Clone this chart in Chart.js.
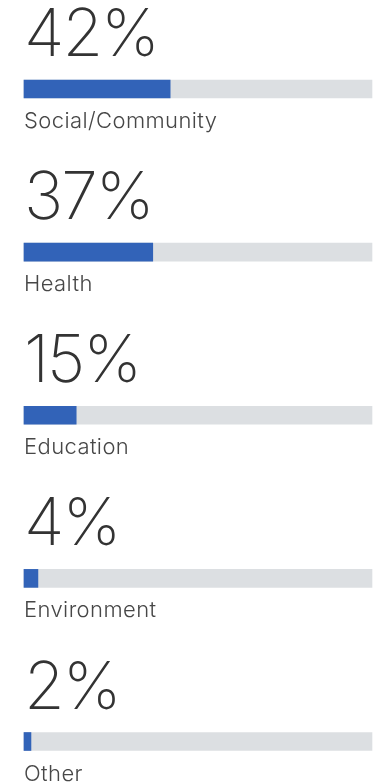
<!DOCTYPE html>
<html>
<head>
<meta charset="utf-8">
<style>
  html, body { margin: 0; padding: 0; background: #ffffff; }
  #wrap { position: relative; width: 378px; height: 783px; }
</style>
<script src="https://cdn.jsdelivr.net/npm/chart.js@4/dist/chart.umd.min.js"></script>
</head>
<body>
<div id="wrap"><canvas id="chart"></canvas></div>
<script>
// Share of giving by focus area
const categories = ['Social/Community', 'Health', 'Education', 'Environment', 'Other'];
const shares = [42, 37, 15, 4, 2];
const scaleMax = 100;
const track = categories.map(() => scaleMax);

const BLUE = '#3263b8';
const TRACK = '#dcdfe2';

// Big percentage above each bar, category name below it
const labelPlugin = {
  id: 'barLabels',
  afterDatasetsDraw(chart) {
    const ctx = chart.ctx;
    const meta = chart.getDatasetMeta(0);
    const left = chart.chartArea.left;
    ctx.save();
    ctx.textAlign = 'left';
    ctx.textBaseline = 'alphabetic';
    meta.data.forEach((bar, i) => {
      const top = bar.y - bar.height / 2;
      const bottom = bar.y + bar.height / 2;
      ctx.fillStyle = '#333333';
      ctx.font = '200 66px Inter, Roboto, sans-serif';
      ctx.letterSpacing = '-2px';
      ctx.fillText(shares[i] + '%', left, top - 24);
      ctx.fillStyle = '#474747';
      ctx.font = '300 22px Inter, Roboto, sans-serif';
      ctx.letterSpacing = '0.4px';
      ctx.fillText(categories[i], left, bottom + 30);
    });
    ctx.restore();
  }
};

new Chart(document.getElementById('chart'), {
  type: 'bar',
  data: {
    labels: categories,
    datasets: [
      {
        data: shares,
        backgroundColor: BLUE,
        borderWidth: 0,
        barThickness: 18,
        grouped: false,
        order: 0,
        clip: false
      },
      {
        data: track,
        backgroundColor: TRACK,
        borderWidth: 0,
        barThickness: 18,
        grouped: false,
        order: 1,
        clip: false
      }
    ]
  },
  options: {
    indexAxis: 'y',
    responsive: true,
    maintainAspectRatio: false,
    animation: false,
    layout: { padding: { left: 24, right: 6, top: 89, bottom: 41.5 } },
    scales: {
      x: { type: 'linear', min: 0, max: scaleMax, display: false },
      y: { type: 'category', offset: false, display: false, grid: { display: false } }
    },
    plugins: {
      legend: { display: false },
      tooltip: { enabled: false }
    }
  },
  plugins: [labelPlugin]
});
</script>
</body>
</html>
